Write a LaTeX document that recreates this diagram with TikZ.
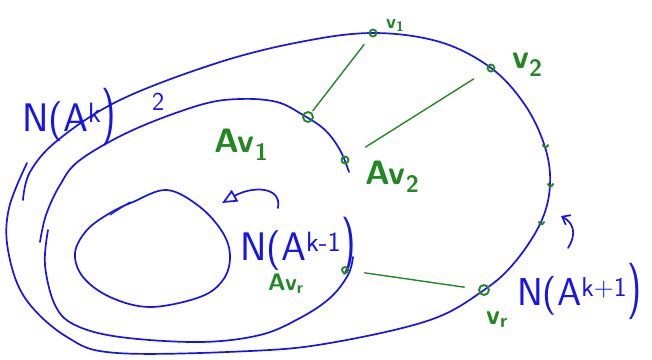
\documentclass[tikz,border=0pt]{standalone}
\usepackage{graphicx}
\usetikzlibrary{arrows.meta}
\definecolor{pen}{RGB}{20,20,235}
\definecolor{leaf}{RGB}{35,135,35}
\newcommand{\tallparen}{\scalebox{1}[1.45]{)}}
\begin{document}
\begin{tikzpicture}
  [x=1bp,y=-1bp,line cap=round,line join=round,
   curve/.style={pen,line width=1.7},
   twig/.style={leaf,line width=1.4},
   ring/.style={circle,draw=leaf,line width=1.9,inner sep=0,minimum size=#1},
   ring/.default=7,
   blue label/.style={pen,inner sep=0,anchor=base west,
     font=\sffamily\fontsize{#1}{#1}\selectfont},
   green label/.style={leaf,inner sep=0,anchor=base west,
     font=\sffamily\bfseries\fontsize{#1}{#1}\selectfont}]
  \useasboundingbox (0,0) rectangle (652,359);

  % outer level N(A^{k+1})
  \draw[curve] plot[smooth,tension=.6] coordinates {(23,200) (30,172) (58,140)
    (120,100) (217,63) (300,42) (373,33) (440,42) (491,68) (525,105) (545,147)
    (550,185) (541,222) (515,262) (484,290) (430,320) (330,343) (250,351)
    (117,353) (67,337) (25,298) (8,250) (9,208) (27,163)};

  % middle level N(A^k)
  \draw[curve] plot[smooth,tension=.6] coordinates {(349,172) (340,150) (325,130)
    (303,115) (277,102) (240,99) (200,105) (133,130) (80,160) (60,185) (46,215)
    (40,242)};
  \draw[curve] plot[smooth,tension=.6] coordinates {(48,230) (45,265) (55,305)
    (75,325) (120,337) (200,342) (260,335) (300,318) (330,298) (348,275)
    (353,257)};

  % inner level N(A^{k-1})
  \draw[curve] plot[smooth cycle,tension=.6] coordinates {(167,190) (200,207)
    (223,233) (230,257) (223,280) (200,297) (150,307) (110,297) (83,277)
    (75,253) (87,230) (110,213) (133,202)};
  \draw[pen,line width=1.1] (110,215) -- (130,202);

  % arrows to the labels
  \draw[curve,-{Triangle[open,length=15,width=13,line width=1.7]}]
    (278,208) .. controls (282,186) and (252,186) .. (222,203);
  \draw[curve,-{Straight Barb[length=7,width=11]}]
    (568,248) .. controls (578,232) and (572,222) .. (561,216);

  % blue labels
  \node[blue label=40] (nk) at (22,131) {N(A\textsuperscript{k}\tallparen};
  \node[blue label=26] (nksub) at (152,110) {2};
  \node[blue label=40] (nkm) at (240,260) {N(A\textsuperscript{k-1}\tallparen};
  \node[blue label=39] (nkp) at (517,305) {N(A\textsuperscript{k+1}\tallparen};

  % vertices
  \node[ring] (v1) at (373,33) {};
  \node[ring] (v2) at (491,68) {};
  \node[ring=10] (vr) at (484,290) {};
  \node[ring=10] (av1) at (308,117) {};
  \node[ring] (av2) at (345,160) {};
  \node[ring=6] (avr) at (345,270) {};

  \draw[twig,shorten <=10,shorten >=2] (v1) -- (av1);
  \draw[twig,shorten <=16,shorten >=20] (v2) -- (av2);
  \draw[twig,shorten <=14,shorten >=16] (vr) -- (avr);

  % ticks on the outer level
  \foreach \x/\y in {543/145, 548/184, 539/222}
    \draw[twig,line width=2] (\x,\y) .. controls (\x+1,\y+3) and (\x+4,\y+3) .. (\x+5,\y);

  % green labels
  \node[green label=20] (lv1) at (386,28) {v\textsubscript{1}};
  \node[green label=34] (lv2) at (512,68) {v\textsubscript{2}};
  \node[green label=28] (lvr) at (486,324) {v\textsubscript{r}};
  \node[green label=34] (lav1) at (214,152) {Av\textsubscript{1}};
  \node[green label=34] (lav2) at (365,184) {Av\textsubscript{2}};
  \node[green label=24] (lavr) at (268,290) {Av\textsubscript{r}};
\end{tikzpicture}
\end{document}
